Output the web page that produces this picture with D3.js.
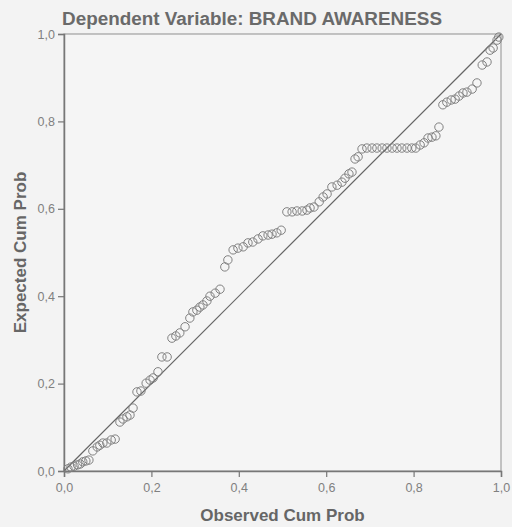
<!DOCTYPE html>
<html>
<head>
<meta charset="utf-8">
<script src="https://cdn.jsdelivr.net/npm/d3@7"></script>
<style>
  body { margin: 0; background: #f3f3f3; }
  svg { display: block; font-family: "Liberation Sans", Arial, sans-serif; }
</style>
</head>
<body>
<div id="chart"></div>
<script>
// Normal P-P plot of regression standardized residual
let title = "Dependent Variable: BRAND AWARENESS";
let xLabel = "Observed Cum Prob";
let yLabel = "Expected Cum Prob";
let tickValues = [0, 0.2, 0.4, 0.6, 0.8, 1.0];

let observed = [
    0.009, 0.016, 0.023, 0.031, 0.037, 0.043, 0.050, 0.057,
    0.066, 0.076, 0.082, 0.089, 0.098, 0.108, 0.117,
    0.128, 0.135, 0.144, 0.151, 0.158,
    0.167, 0.176, 0.188, 0.197, 0.204, 0.215,
    0.224, 0.236,
    0.247, 0.256, 0.265, 0.277, 0.288, 0.295, 0.304, 0.311, 0.318, 0.327, 0.334, 0.346, 0.357,
    0.368, 0.375, 0.387, 0.398, 0.410, 0.421, 0.432, 0.444, 0.455, 0.467, 0.476, 0.487, 0.497,
    0.510, 0.522, 0.533, 0.545, 0.556, 0.563, 0.572, 0.584, 0.593, 0.602, 0.613, 0.625, 0.636, 0.643, 0.652, 0.659,
    0.666, 0.673, 0.682, 0.693, 0.705, 0.716, 0.728, 0.739, 0.751, 0.762, 0.773, 0.785, 0.796, 0.805,
    0.815, 0.824, 0.833, 0.842, 0.851, 0.858,
    0.867, 0.876, 0.886, 0.895, 0.904, 0.913, 0.922, 0.934, 0.945,
    0.957, 0.968, 0.975, 0.982, 0.991, 0.995
];
let expected = [
    0.005, 0.009, 0.011, 0.014, 0.016, 0.021, 0.023, 0.025,
    0.046, 0.055, 0.059, 0.064, 0.064, 0.071, 0.073,
    0.112, 0.119, 0.124, 0.128, 0.144,
    0.181, 0.183, 0.201, 0.208, 0.213, 0.227,
    0.261, 0.261,
    0.304, 0.309, 0.316, 0.330, 0.350, 0.364, 0.368, 0.375, 0.380, 0.389, 0.400, 0.407, 0.416,
    0.467, 0.483, 0.506, 0.510, 0.513, 0.522, 0.524, 0.531, 0.538, 0.540, 0.542, 0.545, 0.551,
    0.593, 0.593, 0.595, 0.595, 0.597, 0.602, 0.604, 0.616, 0.627, 0.634, 0.650, 0.654, 0.661, 0.670, 0.680, 0.684,
    0.714, 0.719, 0.737, 0.739, 0.739, 0.739, 0.739, 0.739, 0.739, 0.739, 0.739, 0.739, 0.739, 0.739,
    0.746, 0.751, 0.762, 0.764, 0.767, 0.787,
    0.838, 0.844, 0.849, 0.851, 0.858, 0.865, 0.867, 0.874, 0.888,
    0.929, 0.936, 0.963, 0.968, 0.986, 0.993
];

let margin = { top: 34, right: 11, bottom: 56, left: 64 };
let width = 512 - margin.left - margin.right;
let height = 527 - margin.top - margin.bottom;

var svg = d3.select("#chart").append("svg")
    .attr("width", 512)
    .attr("height", 527);

var g = svg.append("g")
    .attr("transform", "translate(" + margin.left + "," + margin.top + ")");

var x = d3.scaleLinear().domain([0, 1]).range([0, width]);
var y = d3.scaleLinear().domain([0, 1]).range([height, 0]);

// plot area
g.append("rect")
    .attr("width", width)
    .attr("height", height)
    .attr("fill", "#f5f5f5")
    .attr("stroke", "#a0a0a0")
    .attr("stroke-width", 1.2);

// axes
var fmt = d => d3.format(".1f")(d).replace(".", ",");

var xAxis = g.append("g")
    .attr("transform", "translate(0," + height + ")")
    .call(d3.axisBottom(x).tickValues(tickValues).tickFormat(fmt).tickSize(6).tickPadding(6));
var yAxis = g.append("g")
    .call(d3.axisLeft(y).tickValues(tickValues).tickFormat(fmt).tickSize(6).tickPadding(3));

[xAxis, yAxis].forEach(a => {
    a.select(".domain").attr("stroke", "#777").attr("stroke-width", 1.5);
    a.selectAll(".tick line").attr("stroke", "#777").attr("stroke-width", 1.2);
    a.selectAll(".tick text")
        .attr("fill", "#808080")
        .style("font-size", "12.5px")
        .style("font-family", "'Liberation Sans', Arial, sans-serif");
});

// reference line
g.append("line")
    .attr("x1", x(0)).attr("y1", y(0))
    .attr("x2", x(1)).attr("y2", y(1))
    .attr("stroke", "#666")
    .attr("stroke-width", 1.2);

// points
var data = observed.map((d, i) => ({ obs: d, exp: expected[i] }));
g.append("g")
    .selectAll("circle")
    .data(data)
    .enter()
    .append("circle")
    .attr("cx", d => x(d.obs))
    .attr("cy", d => y(d.exp))
    .attr("r", 4.2)
    .attr("fill", "none")
    .attr("stroke", "#808080")
    .attr("stroke-width", 1);

// title and labels
svg.append("text")
    .attr("x", 252)
    .attr("y", 25)
    .attr("text-anchor", "middle")
    .attr("fill", "#6a6a6a")
    .attr("textLength", 380)
    .attr("lengthAdjust", "spacingAndGlyphs")
    .style("font-size", "17.5px")
    .style("font-weight", "bold")
    .text(title);

svg.append("text")
    .attr("x", margin.left + width / 2)
    .attr("y", 521)
    .attr("text-anchor", "middle")
    .attr("fill", "#666")
    .style("font-size", "17px")
    .style("font-weight", "bold")
    .text(xLabel);

svg.append("text")
    .attr("transform", "translate(26," + (margin.top + height / 2) + ") rotate(-90)")
    .attr("text-anchor", "middle")
    .attr("fill", "#666")
    .style("font-size", "17px")
    .style("font-weight", "bold")
    .text(yLabel);
</script>
</body>
</html>
